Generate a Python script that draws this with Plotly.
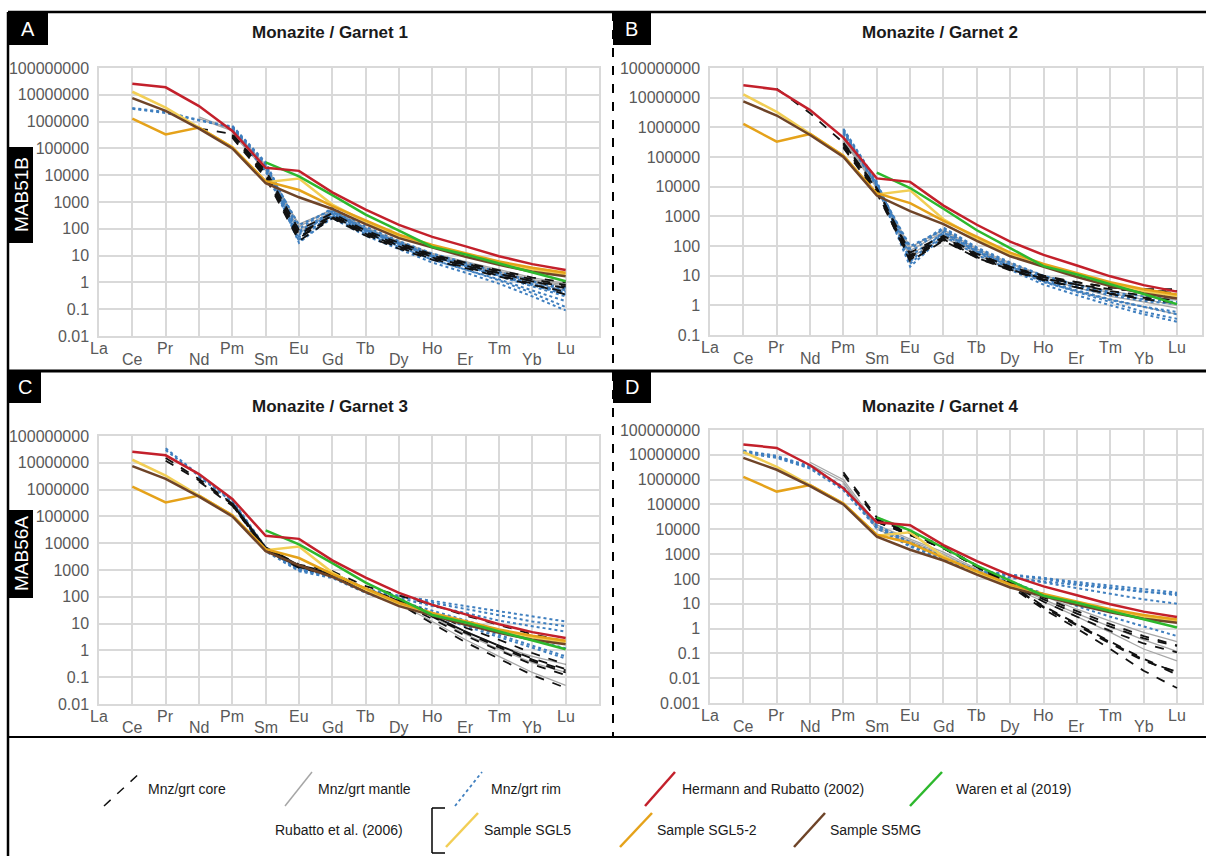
import plotly.graph_objects as go

W, H = 1206, 856

ELEMENTS = ["La", "Ce", "Pr", "Nd", "Pm", "Sm", "Eu", "Gd", "Tb", "Dy", "Ho", "Er", "Tm", "Yb", "Lu"]
N = None

# Literature monazite/garnet partition coefficients (La ... Lu)
HERMANN_RUBATTO_2002 = [N, 2.6e7, 1.9e7, 3.8e6, 4.5e5, 1.9e4, 1.45e4, 2.3e3, 5.2e2, 1.4e2, 50, 22, 9.5, 4.8, 2.9]
WAREN_2019 = [N, N, N, N, N, 3.0e4, 9.0e3, 1.8e3, 3.4e2, 85, 21, 11, 5.0, 2.4, 1.1]
RUBATTO_SGL5 = [N, 1.3e7, 3.3e6, 6.0e5, 1.1e5, 5.5e3, 7.5e3, 8.0e2, 1.8e2, 50, 22, 11, 5.5, 3.0, 2.0]
RUBATTO_SGL5_2 = [N, 1.3e6, 3.3e5, 6.0e5, 1.1e5, 6.0e3, 2.8e3, 7.0e2, 2.0e2, 60, 25, 12, 6.0, 3.5, 2.3]
RUBATTO_S5MG = [N, 7.5e6, 2.5e6, 5.5e5, 1.0e5, 5.0e3, 1.5e3, 5.5e2, 1.5e2, 45, 20, 9, 4.5, 2.5, 1.7]

# Garnet 1 (MAB51B)
G1_CORE = [
    [N, N, N, 5.5e5, 3.5e5, 1.2e4, 60, 320, 75, 26, 10, 5.0, 2.5, 1.3, 0.8],
    [N, N, N, N, 2.8e5, 9.0e3, 45, 280, 65, 22, 8.5, 4.2, 2.1, 1.1, 0.6],
    [N, N, N, N, 3.2e5, 1.5e4, 90, 380, 85, 30, 11, 5.5, 2.8, 1.5, 1.0],
    [N, N, N, N, 2.5e5, 8.0e3, 35, 250, 55, 18, 7.0, 3.4, 1.7, 0.8, 0.45],
    [N, N, N, N, 3.0e5, 1.1e4, 70, 300, 70, 24, 9.0, 4.5, 2.2, 1.1, 0.7],
    [N, N, N, N, 2.7e5, 1.0e4, 50, 260, 60, 20, 7.5, 3.6, 1.8, 0.9, 0.35],
]
G1_MANTLE = [
    [N, N, N, 1.5e6, 5.0e5, 2.5e4, 120, 550, 110, 35, 12, 6.0, 3.0, 1.5, 0.9],
    [N, N, N, 1.3e6, 4.5e5, 2.0e4, 90, 450, 95, 30, 10, 5.0, 2.5, 1.2, 0.7],
    [N, N, N, N, 4.0e5, 1.8e4, 70, 400, 85, 26, 9.0, 4.3, 2.0, 1.0, 0.5],
    [N, N, N, N, 3.5e5, 1.5e4, 150, 500, 100, 32, 11, 5.5, 2.7, 1.3, 0.8],
]
G1_RIM = [
    [N, 3.2e6, 2.3e6, 1.15e6, 6.5e5, 2.5e4, 40, 350, 80, 26, 9.0, 4.0, 1.8, 0.8, 0.35],
    [N, 3.0e6, 2.1e6, 1.1e6, 6.0e5, 2.0e4, 30, 280, 65, 21, 7.0, 3.0, 1.3, 0.5, 0.2],
    [N, N, N, N, 7.0e5, 3.0e4, 100, 600, 120, 35, 12, 5.5, 2.5, 1.1, 0.5],
    [N, N, N, N, 5.5e5, 1.8e4, 60, 420, 90, 28, 9.5, 4.2, 1.9, 0.85, 0.4],
    [N, N, N, N, 6.0e5, 2.2e4, 140, 500, 100, 30, 10, 4.5, 2.0, 0.9, 0.45],
    [N, N, N, N, 5.0e5, 1.6e4, 50, 320, 70, 22, 7.0, 3.0, 1.2, 0.4, 0.12],
    [N, N, N, N, 4.8e5, 1.4e4, 35, 250, 55, 17, 5.5, 2.3, 0.9, 0.3, 0.09],
    [N, N, N, N, 6.5e5, 2.6e4, 80, 450, 95, 30, 11, 5.0, 2.4, 1.1, 0.6],
    [N, N, N, N, 5.8e5, 2.0e4, 70, 380, 85, 27, 9.0, 4.0, 1.7, 0.7, 0.3],
]

# Garnet 2 (MAB51B)
G2_CORE = [
    [N, N, 2.0e7, 3.0e6, 3.0e5, 8.0e3, 40, 180, 45, 18, 9.0, 6.0, 4.0, 3.5, 3.5],
    [N, N, N, N, 2.5e5, 7.0e3, 30, 150, 40, 16, 8.0, 5.0, 3.5, 3.0, 3.0],
    [N, N, N, N, 3.0e5, 9.0e3, 50, 200, 50, 20, 10, 6.0, 4.0, 3.5, 2.5],
    [N, N, N, N, 2.0e5, 6.0e3, 35, 160, 40, 15, 7.0, 4.0, 2.5, 1.8, 1.5],
    [N, N, N, N, 2.8e5, 8.5e3, 60, 220, 55, 20, 9.0, 5.0, 3.0, 2.2, 2.0],
    [N, N, N, N, 2.2e5, 7.0e3, 45, 170, 42, 16, 7.5, 4.0, 2.4, 1.6, 1.2],
]
G2_MANTLE = [
    [N, N, N, N, 5.0e5, 1.2e4, 70, 300, 70, 25, 10, 5.0, 3.0, 2.0, 1.5],
    [N, N, N, N, 4.0e5, 1.0e4, 50, 250, 60, 20, 8.0, 4.0, 2.0, 1.3, 0.8],
    [N, N, N, N, 3.5e5, 9.0e3, 40, 200, 50, 17, 6.5, 3.0, 1.6, 0.9, 0.5],
    [N, N, N, N, 4.5e5, 1.1e4, 90, 350, 80, 27, 10, 5.0, 2.6, 1.6, 1.0],
]
G2_RIM = [
    [N, N, N, N, 9.0e5, 1.5e4, 30, 300, 70, 22, 8.0, 4.0, 2.2, 1.4, 1.1],
    [N, N, N, N, 8.0e5, 1.3e4, 25, 250, 60, 18, 6.0, 3.0, 1.5, 0.9, 0.6],
    [N, N, N, N, 7.0e5, 1.2e4, 60, 400, 85, 26, 9.0, 4.5, 2.5, 1.6, 1.3],
    [N, N, N, N, 6.0e5, 1.0e4, 100, 350, 75, 22, 7.0, 3.2, 1.6, 0.9, 0.5],
    [N, N, N, N, 8.5e5, 1.4e4, 45, 280, 65, 20, 6.5, 2.8, 1.3, 0.6, 0.35],
    [N, N, N, N, 7.5e5, 1.1e4, 20, 220, 50, 16, 5.0, 2.2, 1.0, 0.5, 0.28],
    [N, N, N, N, 6.5e5, 1.2e4, 80, 420, 90, 28, 10, 5.0, 2.8, 2.0, 1.8],
]

# Garnet 3 (MAB56A)
G3_CORE = [
    [N, N, 1.5e7, 2.5e6, 3.0e5, 7.0e3, 1.5e3, 800, 200, 70, 20, 5.0, 1.5, 0.5, 0.2],
    [N, N, 1.2e7, 2.2e6, 2.8e5, 6.0e3, 1.3e3, 700, 180, 60, 15, 3.5, 1.0, 0.3, 0.12],
    [N, N, N, 2.0e6, 2.5e5, 5.5e3, 1.2e3, 650, 170, 55, 10, 2.0, 0.5, 0.12, 0.04],
    [N, N, N, N, 3.0e5, 6.5e3, 1.4e3, 750, 200, 75, 25, 7.0, 2.5, 0.8, 0.3],
    [N, N, N, N, 2.6e5, 6.0e3, 1.3e3, 700, 180, 65, 18, 4.5, 1.3, 0.4, 0.15],
    [N, N, N, N, 2.7e5, 6.2e3, 1.3e3, 720, 185, 68, 20, 5.0, 1.5, 0.45, 0.18],
    [N, N, N, N, 3.0e5, 7.0e3, 1.6e3, 900, 250, 110, 50, 20, 9.0, 4.0, 2.2],
]
G3_MANTLE = [
    [N, N, N, N, 3.5e5, 7.0e3, 1.4e3, 750, 200, 70, 20, 5.0, 1.5, 0.6, 0.3],
    [N, N, N, N, 3.0e5, 6.0e3, 1.2e3, 650, 170, 55, 12, 2.5, 0.6, 0.15, 0.05],
    [N, N, N, N, 3.2e5, 6.5e3, 1.3e3, 700, 190, 65, 18, 4.0, 1.1, 0.35, 0.15],
]
G3_RIM = [
    [N, N, 3.5e7, 3.5e6, 4.0e5, 7.0e3, 1.2e3, 700, 200, 110, 70, 45, 28, 18, 12],
    [N, N, 3.0e7, 3.2e6, 3.8e5, 6.5e3, 1.1e3, 650, 190, 100, 60, 35, 20, 12, 8.0],
    [N, N, N, 3.0e6, 3.5e5, 6.0e3, 1.0e3, 600, 170, 90, 45, 25, 13, 8.0, 5.0],
    [N, N, N, N, 3.0e5, 5.5e3, 1.0e3, 550, 150, 60, 25, 10, 4.0, 1.5, 0.6],
    [N, N, N, N, 3.2e5, 6.0e3, 1.1e3, 600, 160, 70, 30, 13, 6.0, 2.5, 1.2],
    [N, N, N, N, 2.8e5, 5.0e3, 900, 500, 140, 50, 20, 8.0, 3.0, 1.2, 0.5],
]

# Garnet 4 (MAB56A)
G4_CORE = [
    [N, N, N, N, 2.0e6, 3.0e4, 8.0e3, 2.0e3, 350, 60, 8.0, 1.5, 0.3, 0.06, 0.016],
    [N, N, N, N, 1.6e6, 2.5e4, 7.0e3, 1.8e3, 300, 50, 6.0, 1.0, 0.15, 0.02, 0.004],
    [N, N, N, N, N, 2.0e4, 6.0e3, 1.7e3, 320, 70, 15, 4.0, 1.2, 0.4, 0.2],
    [N, N, N, N, N, 2.2e4, 6.5e3, 1.8e3, 330, 65, 12, 3.0, 0.8, 0.25, 0.11],
    [N, N, N, N, N, 2.4e4, 7.0e3, 1.9e3, 340, 75, 18, 5.0, 1.5, 0.5, 0.21],
    [N, N, N, N, N, 2.0e4, 6.0e3, 1.7e3, 310, 55, 7.0, 1.3, 0.25, 0.05, 0.018],
    [N, N, N, N, N, 2.1e4, 6.2e3, 1.75e3, 315, 58, 7.5, 1.4, 0.28, 0.055, 0.014],
]
G4_MANTLE = [
    [N, N, N, 5.0e6, 1.0e6, 1.5e4, 4.0e3, 1.2e3, 250, 70, 20, 6.0, 2.0, 0.7, 0.3],
    [N, N, N, 4.0e6, 8.0e5, 1.2e4, 3.5e3, 1.0e3, 220, 60, 15, 4.0, 1.2, 0.35, 0.12],
    [N, N, N, N, 7.0e5, 1.0e4, 3.0e3, 900, 200, 50, 12, 3.0, 0.7, 0.15, 0.05],
]
G4_RIM = [
    [N, 1.5e7, 9.0e6, 3.5e6, 5.0e5, 1.5e4, 3.0e3, 800, 220, 150, 110, 75, 55, 40, 28],
    [N, 1.4e7, 8.5e6, 3.2e6, 4.5e5, 1.4e4, 2.8e3, 750, 210, 140, 100, 65, 45, 32, 22],
    [N, 1.3e7, 8.0e6, 3.0e6, 4.0e5, 1.3e4, 2.5e3, 700, 200, 120, 70, 40, 25, 15, 10],
    [N, N, N, N, 4.0e5, 1.2e4, 2.2e3, 650, 180, 80, 25, 8.0, 3.0, 1.2, 0.5],
    [N, 1.2e7, 7.5e6, 2.8e6, 3.8e5, 1.1e4, 2.0e3, 600, 170, 110, 80, 55, 40, 30, 25],
]

# ---------------------------------------------------------------- styling
FONT = "Liberation Sans, Arial, sans-serif"
GRID = "#D9D9D9"
C_CORE, C_MANTLE, C_RIM = "#111111", "#A6A6A6", "#3F7FBF"
C_HR, C_WAREN = "#C3202B", "#2DB82D"
C_SGL5, C_SGL52, C_S5MG = "#F2CE55", "#E5A21A", "#6E4428"
TICK_GREY = "#595959"


def px(x):
    return x / W


def py(y):
    return 1 - y / H


# panel frames in pixels: (left, right, top, bottom), log10 range, title centre
PANELS = [
    dict(letter="A", title="Monazite / Garnet 1", core=G1_CORE, mantle=G1_MANTLE, rim=G1_RIM,
         box=(99, 599, 68, 336), yexp=(-2, 8), xr=15.0, tx=330, ty=32, lb=(8, 12, 48, 45)),
    dict(letter="B", title="Monazite / Garnet 2", core=G2_CORE, mantle=G2_MANTLE, rim=G2_RIM,
         box=(710, 1202, 68, 335), yexp=(-1, 8), xr=14.75, tx=940, ty=32, lb=(613, 12, 651, 45)),
    dict(letter="C", title="Monazite / Garnet 3", core=G3_CORE, mantle=G3_MANTLE, rim=G3_RIM,
         box=(99, 599, 436, 704), yexp=(-2, 8), xr=15.0, tx=330, ty=406, lb=(8, 371, 41, 403)),
    dict(letter="D", title="Monazite / Garnet 4", core=G4_CORE, mantle=G4_MANTLE, rim=G4_RIM,
         box=(710, 1202, 430, 703), yexp=(-3, 8), xr=14.75, tx=940, ty=406, lb=(613, 371, 651, 403)),
]

fig = go.Figure()
shapes, annotations = [], []
xs = list(range(len(ELEMENTS)))


def fmt(e):
    return str(10 ** e) if e >= 0 else ("{:." + str(-e) + "f}").format(10.0 ** e)


for i, p in enumerate(PANELS, start=1):
    xa, ya = ("x", "y") if i == 1 else (f"x{i}", f"y{i}")
    l, r, t, b = p["box"]
    lo, hi = p["yexp"]
    fig.layout[f"xaxis{'' if i == 1 else i}"] = dict(
        domain=[px(l), px(r)], range=[0, p["xr"]], anchor=ya, automargin=False,
        tickvals=xs, showticklabels=False, showgrid=True, gridcolor=GRID, gridwidth=1.5,
        showline=True, linecolor=GRID, linewidth=1.5, mirror=True, zeroline=False, ticks="",
    )
    fig.layout[f"yaxis{'' if i == 1 else i}"] = dict(
        domain=[py(b), py(t)], type="log", range=[lo, hi], anchor=xa, automargin=False,
        tickvals=[10.0 ** e for e in range(lo, hi + 1)],
        ticktext=[fmt(e) for e in range(lo, hi + 1)],
        tickfont=dict(family=FONT, size=16, color=TICK_GREY), ticklabelstandoff=5,
        showgrid=True, gridcolor=GRID, gridwidth=1.5,
        showline=True, linecolor=GRID, linewidth=1.5, mirror=True, zeroline=False, ticks="",
    )

    def add(vals, color, width, dash):
        fig.add_trace(go.Scatter(
            x=xs, y=vals, mode="lines", xaxis=xa, yaxis=ya, showlegend=False,
            line=dict(color=color, width=width, dash=dash), hoverinfo="skip",
        ))

    for v in p["mantle"]:
        add(v, C_MANTLE, 1.3, "solid")
    for v in p["rim"]:
        add(v, C_RIM, 2.0, "dot")
    for v in p["core"]:
        add(v, C_CORE, 1.8, "dash")
    add(RUBATTO_SGL5, C_SGL5, 2.5, "solid")
    add(RUBATTO_SGL5_2, C_SGL52, 2.5, "solid")
    add(RUBATTO_S5MG, C_S5MG, 2.5, "solid")
    add(WAREN_2019, C_WAREN, 2.5, "solid")
    add(HERMANN_RUBATTO_2002, C_HR, 2.5, "solid")

    # staggered element labels under the axis
    for k, el in enumerate(ELEMENTS):
        yy = b + (12 if k % 2 == 0 else 23)
        annotations.append(dict(
            x=k, y=py(yy), xref=xa, yref="paper", text=el, showarrow=False,
            xanchor="center", yanchor="middle",
            font=dict(family=FONT, size=16, color=TICK_GREY),
        ))

    annotations.append(dict(
        x=px(p["tx"]), y=py(p["ty"]), xref="paper", yref="paper", text=f"<b>{p['title']}</b>",
        showarrow=False, xanchor="center", yanchor="middle",
        font=dict(family=FONT, size=17, color="#1A1A1A"),
    ))

    x0, y0, x1, y1 = p["lb"]
    shapes.append(dict(type="rect", xref="paper", yref="paper", x0=px(x0), x1=px(x1),
                       y0=py(y1), y1=py(y0), fillcolor="black", line=dict(width=0), layer="above"))
    annotations.append(dict(
        x=px((x0 + x1) / 2), y=py((y0 + y1) / 2), xref="paper", yref="paper", text=p["letter"],
        showarrow=False, xanchor="center", yanchor="middle",
        font=dict(family=FONT, size=20, color="white"),
    ))

# sample names on the left margin
for name, (y0, y1) in [("MAB51B", (147, 243)), ("MAB56A", (510, 598))]:
    shapes.append(dict(type="rect", xref="paper", yref="paper", x0=px(8), x1=px(33),
                       y0=py(y1), y1=py(y0), fillcolor="black", line=dict(width=0), layer="above"))
    annotations.append(dict(
        x=px(21), y=py((y0 + y1) / 2), xref="paper", yref="paper", text=name, textangle=-90,
        showarrow=False, xanchor="center", yanchor="middle",
        font=dict(family=FONT, size=19, color="white"),
    ))


def hline(x0, x1, y, w=2.0, dash="solid"):
    shapes.append(dict(type="line", xref="paper", yref="paper", x0=px(x0), x1=px(x1),
                       y0=py(y), y1=py(y), line=dict(color="black", width=w, dash=dash), layer="above"))


def vline(x, y0, y1, w=2.0, dash="solid"):
    shapes.append(dict(type="line", xref="paper", yref="paper", x0=px(x), x1=px(x),
                       y0=py(y0), y1=py(y1), line=dict(color="black", width=w, dash=dash), layer="above"))


# frame
hline(8, 1206, 12, 2.5)
vline(8, 12, 856, 2.5)
hline(8, 1206, 371, 3)
hline(8, 1206, 737, 2)
vline(613, 12, 737, 2, "dash")

# legend
LEGEND_ROW1 = [
    ("Mnz/grt core", C_CORE, 1.5, "dash", 104, 141, 146),
    ("Mnz/grt mantle", C_MANTLE, 1.5, "solid", 285, 312, 316),
    ("Mnz/grt rim", C_RIM, 1.8, "dot", 455, 482, 489),
    ("Hermann and Rubatto (2002)", C_HR, 2.5, "solid", 645, 675, 680),
    ("Waren et al (2019)", C_WAREN, 2.5, "solid", 910, 942, 954),
]
LEGEND_ROW2 = [
    ("Sample SGL5", C_SGL5, 2.5, "solid", 446, 478, 482),
    ("Sample SGL5-2", C_SGL52, 2.5, "solid", 620, 652, 655),
    ("Sample S5MG", C_S5MG, 2.5, "solid", 794, 825, 828),
]
for row, yc in [(LEGEND_ROW1, 789), (LEGEND_ROW2, 830)]:
    for label, color, w, dash, sx0, sx1, tx in row:
        shapes.append(dict(type="line", xref="paper", yref="paper", x0=px(sx0), x1=px(sx1),
                           y0=py(yc + 17), y1=py(yc - 17), line=dict(color=color, width=w, dash=dash)))
        annotations.append(dict(
            x=px(tx), y=py(yc), xref="paper", yref="paper", text=label, showarrow=False,
            xanchor="left", yanchor="middle", font=dict(family=FONT, size=14, color="#1A1A1A"),
        ))

annotations.append(dict(
    x=px(405), y=py(830), xref="paper", yref="paper", text="Rubatto et al. (2006)", showarrow=False,
    xanchor="right", yanchor="middle", font=dict(family=FONT, size=14, color="#1A1A1A"),
))
# bracket grouping the Rubatto samples
vline(432, 808, 853, 1.5)
hline(432, 445, 808, 1.5)
hline(432, 445, 853, 1.5)

fig.update_layout(
    width=W, height=H, margin=dict(l=0, r=0, t=0, b=0, pad=0, autoexpand=False),
    paper_bgcolor="white", plot_bgcolor="white",
    shapes=shapes, annotations=annotations, showlegend=False,
)

# pin the figure to the top-left corner of the page
PAGE_JS = (
    "document.documentElement.style.margin='0';"
    "document.body.style.margin='0';document.body.style.padding='0';"
    "document.body.style.overflow='hidden';"
    "var gd=document.querySelector('.plotly-graph-div');"
    "gd.style.position='fixed';gd.style.top='0px';gd.style.left='0px';"
)
fig.write_html("out.html", post_script=PAGE_JS)
